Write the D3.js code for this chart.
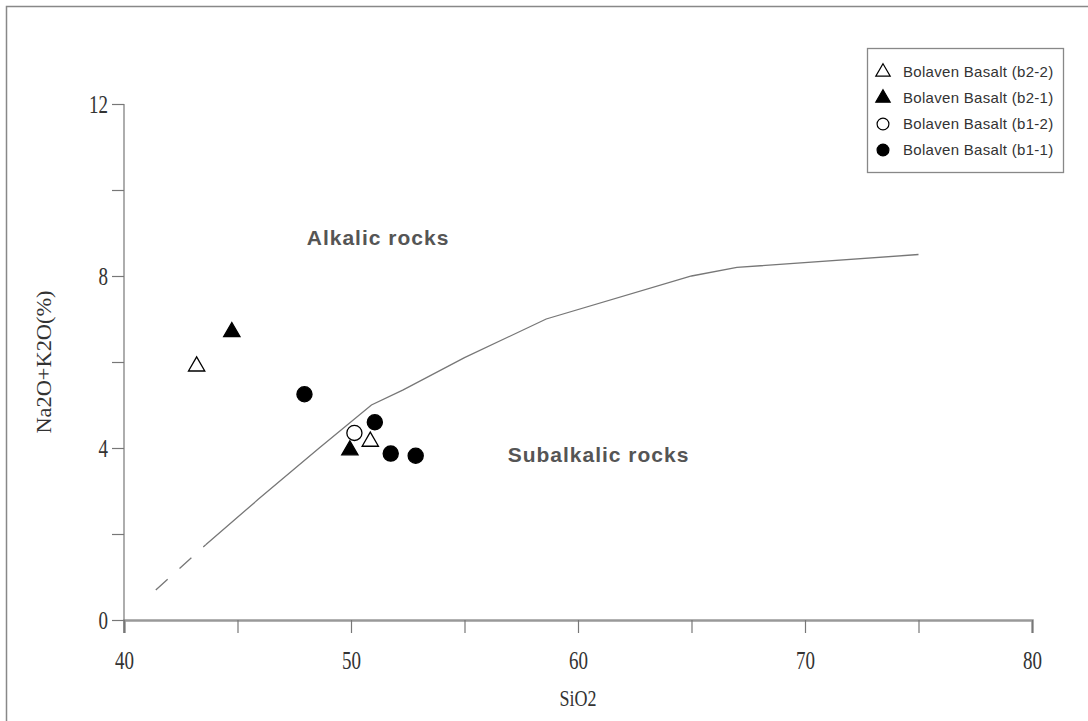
<!DOCTYPE html>
<html>
<head>
<meta charset="utf-8">
<script src="https://cdn.jsdelivr.net/npm/d3@7"></script>
<style>
  body { margin: 0; background: #fff; }
  svg { display: block; }
</style>
</head>
<body>
<div id="chart"></div>
<script>
// boundary between alkalic and subalkalic fields (SiO2, Na2O+K2O)
const dashedLine = [[41.4, 0.7], [43.6, 1.75]];
const solidLine = [[43.6, 1.75], [45.9, 2.8], [48.6, 4.0], [50.9, 5.0], [52.3, 5.35],
                   [55, 6.1], [58.6, 7.0], [65, 8.0], [67, 8.2], [75, 8.5]];

// samples
const seriesNames = ["Bolaven Basalt (b2-2)", "Bolaven Basalt (b2-1)",
                     "Bolaven Basalt (b1-2)", "Bolaven Basalt (b1-1)"];
const b22 = [[43.2, 5.9], [50.85, 4.15]];
const b21 = [[44.75, 6.7], [49.95, 3.95]];
const b12 = [[50.15, 4.35]];
const b11 = [[47.95, 5.25], [51.05, 4.6], [51.75, 3.87], [52.85, 3.82]];

const xTicks = [40, 50, 60, 70, 80];
const xMinor = [45, 55, 65, 75];
const yTicks = [0, 4, 8, 12];
const yMinor = [2, 6, 10];

const width = 1088, height = 721;
const svg = d3.select("#chart").append("svg")
  .attr("width", width).attr("height", height);

// outer frame
svg.append("rect")
  .attr("x", 6.5).attr("y", 6.5)
  .attr("width", 1100).attr("height", 800)
  .attr("fill", "none").attr("stroke", "#888").attr("stroke-width", 1.5);

const x = d3.scaleLinear().domain([40, 80]).range([124, 1032]);
const y = d3.scaleLinear().domain([0, 12]).range([620, 104]);

const axisColor = "#777";
const serif = "'Liberation Serif', 'Times New Roman', serif";

// x axis
const xAxis = svg.append("g").attr("transform", "translate(0,620)")
  .call(d3.axisBottom(x).tickValues(xTicks.concat(xMinor)).tickSize(13)
    .tickFormat(d => xTicks.includes(d) ? d : ""));
xAxis.select(".domain").attr("stroke", "#999").attr("stroke-width", 2.5);
xAxis.selectAll(".tick line").attr("stroke", axisColor).attr("stroke-width", 1.2);
xAxis.selectAll(".tick text")
  .attr("y", null).attr("dy", null)
  .attr("transform", "translate(0,49) scale(1,1.3)")
  .attr("font-family", serif).attr("font-size", 19).attr("fill", "#333");

// y axis
const yAxis = svg.append("g").attr("transform", "translate(124,0)")
  .call(d3.axisLeft(y).tickValues(yTicks.concat(yMinor)).tickSize(12)
    .tickFormat(d => yTicks.includes(d) ? d : ""));
yAxis.select(".domain").attr("stroke", axisColor).attr("stroke-width", 1.2)
  .attr("d", "M0,104V633");
yAxis.selectAll(".tick line").attr("stroke", axisColor).attr("stroke-width", 1.2);
yAxis.selectAll(".tick text")
  .attr("x", null).attr("dy", "0.33em")
  .attr("transform", "translate(-16,0) scale(1,1.3)")
  .attr("font-family", serif).attr("font-size", 19).attr("fill", "#333");

// axis titles
svg.append("text")
  .attr("transform", "translate(578,706) scale(1,1.3)")
  .attr("text-anchor", "middle")
  .attr("font-family", serif).attr("font-size", 18).attr("fill", "#333")
  .text("SiO2");

svg.append("text")
  .attr("transform", "translate(51,362) rotate(-90) scale(1.12,1)")
  .attr("text-anchor", "middle")
  .attr("font-family", serif).attr("font-size", 20).attr("fill", "#333")
  .text("Na2O+K2O(%)");

// boundary line
const line = d3.line().x(d => x(d[0])).y(d => y(d[1]));
svg.append("path").datum(dashedLine)
  .attr("d", line).attr("fill", "none")
  .attr("stroke", "#777").attr("stroke-width", 1.3)
  .attr("stroke-dasharray", "16,16");
svg.append("path").datum(solidLine)
  .attr("d", line).attr("fill", "none")
  .attr("stroke", "#777").attr("stroke-width", 1.3);

// field labels
const sans = "'Liberation Sans', Arial, sans-serif";
svg.append("text")
  .attr("x", x(48.05)).attr("y", y(8.72))
  .attr("font-family", sans).attr("font-weight", "bold").attr("font-size", 21)
  .attr("letter-spacing", 1)
  .attr("fill", "#555").text("Alkalic rocks");
svg.append("text")
  .attr("x", x(56.9)).attr("y", y(3.67))
  .attr("font-family", sans).attr("font-weight", "bold").attr("font-size", 21)
  .attr("letter-spacing", 1)
  .attr("fill", "#555").text("Subalkalic rocks");

// markers
const triUp = d3.symbol().type(d3.symbolTriangle).size(115);
const circ = d3.symbol().type(d3.symbolCircle).size(180);
const styles = [
  { data: b22, sym: triUp, fill: "#fff" },
  { data: b21, sym: triUp, fill: "#000" },
  { data: b12, sym: circ, fill: "#fff" },
  { data: b11, sym: circ, fill: "#000" }
];

styles.forEach(function(s) {
  svg.append("g").selectAll("path")
    .data(s.data)
    .enter()
    .append("path")
    .attr("d", s.sym)
    .attr("transform", d => "translate(" + x(d[0]) + "," + y(d[1]) + ")")
    .attr("fill", s.fill).attr("stroke", "#000").attr("stroke-width", 1.3);
});

// legend
const legend = svg.append("g").attr("transform", "translate(867,48)");
legend.append("rect")
  .attr("x", 0.5).attr("y", 0.5).attr("width", 196).attr("height", 124)
  .attr("fill", "#fff").attr("stroke", "#888").attr("stroke-width", 1.3);

const rows = legend.selectAll("g.row")
  .data(seriesNames)
  .enter()
  .append("g")
  .attr("class", "row")
  .attr("transform", (d, i) => "translate(0," + (24 + i * 26) + ")");

rows.append("path")
  .attr("d", (d, i) => d3.symbol().type(i < 2 ? d3.symbolTriangle : d3.symbolCircle)
    .size(i < 2 ? 90 : 110)())
  .attr("transform", "translate(16,0)")
  .attr("fill", (d, i) => styles[i].fill)
  .attr("stroke", "#000").attr("stroke-width", 1.2);

rows.append("text")
  .attr("x", 36).attr("dy", "0.35em")
  .attr("font-family", sans).attr("font-size", 15).attr("letter-spacing", 0.3)
  .attr("fill", "#333")
  .text(d => d);
</script>
</body>
</html>
